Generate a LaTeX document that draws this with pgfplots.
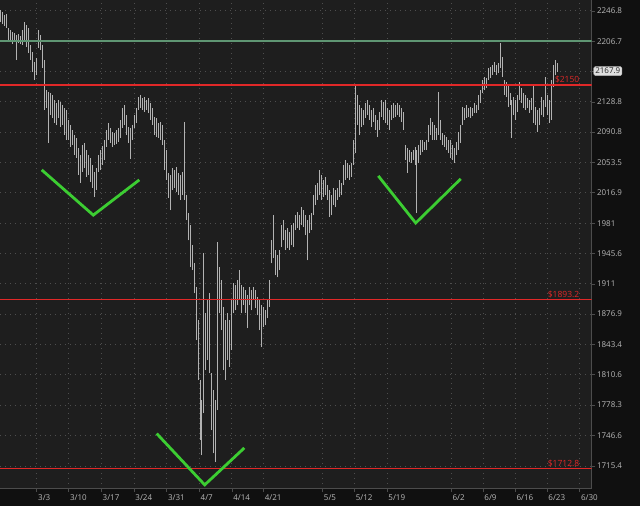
\documentclass[border=0pt]{standalone}
\usepackage{fontspec}
\setmainfont{Open Sans}
\usepackage{pgfplots}
\usepackage{pgfplotstable}
\pgfplotsset{compat=1.18}

\definecolor{outerbg}{RGB}{16,16,16}
\definecolor{plotbg}{RGB}{30,30,30}
\definecolor{gridcol}{RGB}{78,78,78}
\definecolor{labelcol}{RGB}{185,185,185}
\definecolor{barcol}{RGB}{178,178,178}
\definecolor{levelred}{RGB}{225,40,40}
\definecolor{levelgreen}{RGB}{95,150,115}
\definecolor{vgreen}{RGB}{60,205,50}

% hourly bars: x position, high, low
\pgfplotstableread{
x h l
0 2248.1 2232.2
2 2245.4 2229.5
4 2241.5 2226.9
6 2242.8 2224.2
8 2224.2 2208.4
10 2221.6 2205.8
12 2219.0 2203.2
14 2217.6 2205.8
16 2215.0 2182.4
18 2216.3 2204.5
20 2213.7 2203.2
22 2221.6 2201.9
24 2232.2 2208.4
26 2228.2 2199.3
28 2224.2 2191.5
30 2201.9 2182.4
32 2192.8 2166.9
34 2179.8 2156.6
36 2185.0 2163.1
38 2221.6 2198.0
40 2215.0 2195.4
42 2201.9 2172.1
44 2182.4 2118.6
46 2143.9 2121.1
48 2141.4 2077.5
50 2140.1 2112.3
52 2137.6 2108.5
54 2131.2 2102.3
56 2127.4 2099.8
58 2131.2 2108.5
60 2128.7 2097.3
62 2124.9 2099.8
64 2121.1 2087.4
66 2118.6 2081.2
68 2106.0 2081.2
70 2099.8 2072.6
72 2093.6 2075.0
74 2087.4 2062.8
76 2083.7 2059.1
78 2071.4 2038.5
80 2062.8 2028.8
82 2075.0 2042.1
84 2077.5 2047.0
86 2068.9 2036.0
88 2062.8 2038.5
90 2059.1 2030.0
92 2050.6 2022.7
94 2042.1 2011.9
96 2047.0 2020.3
98 2062.8 2042.1
100 2068.9 2044.5
102 2073.8 2050.6
104 2081.2 2056.6
106 2093.6 2072.6
108 2102.3 2081.2
110 2096.1 2077.5
112 2091.1 2072.6
114 2089.9 2075.0
116 2093.6 2076.3
118 2096.1 2078.7
120 2106.0 2083.7
122 2121.1 2096.1
124 2124.9 2099.8
126 2112.3 2087.4
128 2097.3 2077.5
130 2096.1 2057.8
132 2099.8 2081.2
134 2112.3 2096.1
136 2121.1 2102.3
138 2135.0 2118.6
140 2137.6 2121.1
142 2133.7 2118.6
144 2135.0 2116.1
146 2131.2 2118.6
148 2133.7 2114.8
150 2127.4 2106.0
152 2121.1 2099.8
154 2109.8 2087.4
156 2108.5 2084.9
158 2102.3 2083.7
160 2103.5 2081.2
162 2099.8 2075.0
164 2081.2 2044.5
166 2068.9 2032.4
168 2040.9 2010.8
170 2038.5 1996.5
172 2047.0 2020.3
174 2044.5 2022.7
176 2048.2 2017.9
178 2040.9 2014.4
180 2038.5 2008.4
182 2042.1 2014.4
184 2103.5 2008.4
186 2014.4 1984.7
188 1993.0 1961.3
190 1978.8 1930.1
192 1955.5 1926.6
194 1934.7 1900.5
196 1907.3 1848.2
198 1870.3 1804.9
200 1804.9 1741.7
201 1783.6 1726.3
203 1946.2 1769.9
205 1878.1 1815.6
207 1892.6 1826.4
209 1900.5 1812.4
211 1812.4 1752.1
213 1794.2 1728.3
215 1783.6 1719.2
217 1959.0 1773.0
219 1930.1 1878.1
221 1915.2 1859.2
223 1884.8 1815.6
225 1870.3 1804.9
227 1878.1 1826.4
229 1870.3 1818.8
231 1892.6 1837.3
233 1911.8 1878.1
235 1909.5 1881.4
237 1915.2 1887.0
239 1926.6 1892.6
241 1909.5 1878.1
243 1907.3 1887.0
245 1903.9 1878.1
247 1898.3 1861.4
249 1907.3 1887.0
251 1903.9 1881.4
253 1907.3 1892.6
255 1903.9 1883.6
257 1896.0 1875.8
259 1892.6 1859.2
261 1887.0 1840.6
263 1884.8 1862.5
265 1881.4 1864.7
267 1892.6 1872.5
269 1915.2 1884.8
271 1961.3 1934.7
273 1990.6 1940.4
275 1949.7 1920.9
277 1943.9 1918.6
279 1949.7 1926.6
281 1978.8 1953.2
283 1984.7 1961.3
285 1972.9 1949.7
287 1975.3 1952.0
289 1970.6 1949.7
291 1978.8 1955.5
293 1981.2 1953.2
295 1990.6 1972.9
297 1994.1 1975.3
299 1990.6 1972.9
301 2000.0 1978.8
303 1996.5 1976.4
305 1990.6 1967.1
307 1984.7 1938.1
309 1990.6 1969.4
311 1993.0 1972.9
313 2014.4 1990.6
315 2026.4 2002.5
317 2028.8 2008.4
319 2044.5 2014.4
321 2038.5 2008.4
323 2032.4 2011.9
325 2036.0 2014.4
327 2026.4 2008.4
329 2020.3 1988.2
331 2014.4 1990.6
333 2022.7 2002.5
335 2020.3 2000.0
337 2022.7 2008.4
339 2032.4 2011.9
341 2028.8 2014.4
343 2050.6 2026.4
345 2056.6 2032.4
347 2052.9 2034.8
349 2050.6 2032.4
351 2052.9 2036.0
353 2081.2 2050.6
355 2150.3 2065.2
357 2137.6 2099.8
359 2124.9 2087.4
361 2121.1 2097.3
363 2118.6 2099.8
365 2127.4 2108.5
367 2131.2 2112.3
369 2124.9 2106.0
371 2118.6 2097.3
373 2121.1 2103.5
375 2112.3 2093.6
377 2106.0 2084.9
379 2116.1 2093.6
381 2131.2 2109.8
383 2128.7 2106.0
385 2131.2 2102.3
387 2121.1 2099.8
389 2118.6 2093.6
391 2124.9 2106.0
393 2127.4 2108.5
395 2124.9 2109.8
397 2127.4 2112.3
399 2124.9 2109.8
401 2121.1 2103.5
403 2116.1 2093.6
405 2075.0 2056.6
407 2071.4 2040.9
409 2068.9 2054.2
411 2066.4 2052.9
413 2068.9 2056.6
415 2072.6 2050.6
416 2068.9 1993.0
418 2075.0 2052.9
420 2081.2 2062.8
422 2081.2 2066.4
424 2078.7 2068.9
426 2081.2 2068.9
428 2099.8 2078.7
430 2108.5 2087.4
432 2103.5 2081.2
434 2099.8 2081.2
436 2096.1 2081.2
438 2141.4 2087.4
440 2106.0 2081.2
442 2089.9 2075.0
444 2087.4 2072.6
446 2084.9 2068.9
448 2081.2 2065.2
450 2081.2 2059.1
452 2075.0 2056.6
454 2071.4 2052.9
456 2078.7 2062.8
458 2091.1 2068.9
460 2099.8 2077.5
462 2122.4 2099.8
464 2121.1 2106.0
466 2124.9 2108.5
468 2121.1 2109.8
470 2122.4 2108.5
472 2121.1 2111.1
474 2127.4 2114.8
476 2124.9 2114.8
478 2137.6 2118.6
480 2143.9 2127.4
482 2156.6 2140.1
484 2160.5 2143.9
486 2159.2 2146.4
488 2172.1 2156.6
490 2173.4 2159.2
492 2176.0 2163.1
494 2179.8 2166.9
496 2176.0 2163.1
498 2178.5 2165.6
500 2204.5 2172.1
502 2186.3 2160.5
504 2156.6 2137.6
506 2154.1 2135.0
508 2150.3 2122.4
510 2140.1 2124.9
511 2131.2 2083.7
513 2135.0 2112.3
515 2131.2 2106.0
517 2137.6 2116.1
519 2154.1 2131.2
521 2146.4 2127.4
523 2140.1 2121.1
525 2137.6 2118.6
527 2133.7 2121.1
529 2131.2 2114.8
531 2133.7 2118.6
533 2150.3 2102.3
535 2122.4 2099.8
537 2118.6 2091.1
539 2121.1 2099.8
541 2135.0 2112.3
543 2131.2 2109.8
545 2160.5 2122.4
547 2137.6 2112.3
549 2131.2 2102.3
551 2156.6 2106.0
553 2176.0 2147.7
555 2182.4 2163.1
557 2178.5 2166.9
}\bars

\begin{document}
\begin{tikzpicture}[x=1pt,y=1pt]
\fill[outerbg] (0,0) rectangle (640,506);
\useasboundingbox (0,0) rectangle (640,506);
\begin{axis}[
    at={(0pt,17pt)}, anchor=south west,
    scale only axis, width=591.5pt, height=489pt,
    axis background/.style={fill=plotbg},
    ymode=log,
    xmin=0, xmax=591.5, ymin=1692.2, ymax=2261.5,
    axis x line*=bottom, axis y line*=right,
    axis line style={draw=gray!60!black, line width=0.8pt},
    clip mode=individual,
    ytick={1715.4,1746.6,1778.3,1810.6,1843.4,1876.9,1911,1945.6,1981,2016.9,2053.5,2090.8,2128.8,2167.9,2206.7,2246.8},
    yticklabels={1715.4,1746.6,1778.3,1810.6,1843.4,1876.9,1911,1945.6,1981,2016.9,2053.5,2090.8,2128.8,,2206.7,2246.8},
    xtick={36.7,68.6,101.2,133.9,166.5,199.2,231.8,263.3,322.4,354.3,386.9,451,482.9,515.1,546.9,579.6},
    xticklabels={3/3,3/10,3/17,3/24,3/31,4/7,4/14,4/21,5/5,5/12,5/19,6/2,6/9,6/16,6/23,6/30},
    yminorticks=false, xminorticks=false,
    grid=major,
    major grid style={draw=gridcol, line width=0.7pt, dash pattern=on 0.8pt off 4.2pt},
    tick align=outside, major tick length=3pt,
    tick style={draw=gray!60!black, line width=0.6pt},
    yticklabel style={anchor=west, xshift=-1pt, text=labelcol, font=\fontsize{8}{9}\selectfont},
    xticklabel style={anchor=north west, xshift=-2pt, yshift=1pt, text=labelcol, font=\fontsize{8}{9}\selectfont},
]
% price bars
\addplot[draw=none, mark=none, forget plot,
    error bars/.cd, y dir=plus, y explicit, error mark=none,
    error bar style={draw=barcol, solid, line width=0.8pt}]
    table[x=x, y=l, y error expr=\thisrow{h}-\thisrow{l}] {\bars};

% level lines
\addplot[levelgreen, line width=1.5pt, forget plot] coordinates {(0,2206.7) (591.5,2206.7)};
\addplot[levelred, line width=1.4pt, forget plot] coordinates {(0,2150) (591.5,2150)};
\addplot[levelred, line width=1.4pt, forget plot] coordinates {(0,1893.2) (591.5,1893.2)};
\addplot[levelred, line width=1.4pt, forget plot] coordinates {(0,1712.8) (591.5,1712.8)};

% level labels
\node[anchor=south east, text=levelred, font=\fontsize{8.5}{9}\selectfont, inner sep=1.5pt] at (axis cs:581,2150) {\$2150};
\node[anchor=south east, text=levelred, font=\fontsize{8.5}{9}\selectfont, inner sep=1.5pt] at (axis cs:581,1893.2) {\$1893.2};
\node[anchor=south east, text=levelred, font=\fontsize{8.5}{9}\selectfont, inner sep=1.5pt] at (axis cs:581,1712.8) {\$1712.8};

% green V marks
\draw[vgreen, line width=2.8pt, line join=miter] (axis cs:41.7,2044.5) -- (axis cs:93.3,1990.6) -- (axis cs:139.3,2032.4);
\draw[vgreen, line width=2.8pt, line join=miter] (axis cs:156.7,1748.7) -- (axis cs:204.7,1696.2) -- (axis cs:244.3,1733.8);
\draw[vgreen, line width=2.8pt, line join=miter] (axis cs:378.3,2037.2) -- (axis cs:415.7,1981.5) -- (axis cs:460.7,2033.6);

% last price box
\node[anchor=west, fill=gray!25, draw=gray!60, text=black!85, rounded corners=1.5pt, inner sep=1.6pt,
      font=\fontsize{8}{9}\selectfont] at ([xshift=2pt]axis cs:591.5,2167.9) {2167.9};
\end{axis}
\end{tikzpicture}
\end{document}
